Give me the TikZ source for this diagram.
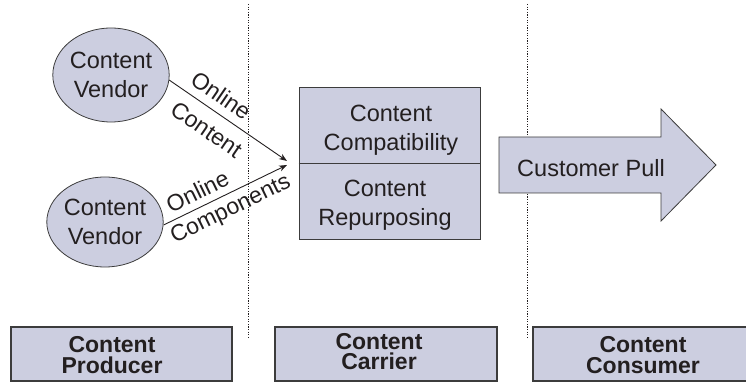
\documentclass[tikz,border=0pt]{standalone}
\usepackage{fontspec}
\setmainfont{Liberation Sans}
\usetikzlibrary{arrows.meta,shapes.geometric}
\definecolor{boxfill}{RGB}{204,206,224}
\definecolor{ink}{RGB}{35,31,32}
\definecolor{edge}{RGB}{60,60,60}

\begin{document}
\begin{tikzpicture}[x=1pt,y=1pt,
  txt/.style={font=\fontsize{23.5}{29}\selectfont, text=ink, align=center, inner sep=0pt},
  vendor/.style={ellipse, draw=edge, line width=0.8pt, fill=boxfill,
    minimum width=114pt, minimum height=94pt, inner sep=0pt, txt},
  flow/.style={draw=ink, line width=0.9pt, -{Stealth[length=8pt,width=6pt]}},
  lbl/.style={font=\fontsize{23}{27}\selectfont, text=ink, inner sep=0pt, sloped},
  divider/.style={draw=ink, line width=0.9pt, dash pattern=on 1.2pt off 1.4pt},
  panel/.style={draw=edge, line width=1.2pt, fill=boxfill, inner sep=0pt},
  head/.style={font=\bfseries\fontsize{23}{20.5}\selectfont, text=ink, align=center, inner sep=0pt}
]
\useasboundingbox (0,0) rectangle (746,382);
\clip (0,0) rectangle (746,382);

% dotted separators between the three stages
\coordinate (d1top) at (248,378);
\coordinate (d1bot) at (248,44);
\coordinate (d2top) at (527,378);
\coordinate (d2bot) at (527,44);
\draw[divider] (d1top) -- (d1bot);
\draw[divider] (d2top) -- (d2bot);

% content vendors
\node[vendor] (v1) at (111,307) {Content\\Vendor};
\node[vendor, minimum height=90pt] (v2) at (105,160) {Content\\Vendor};

% flows into the carrier
\coordinate (t1) at (287,221);
\coordinate (t2) at (287,217);
\draw[flow] (v1.-5) -- node[lbl, pos=0.36, above=8pt] {Online}
                       node[lbl, pos=0.41, below=11pt] {Content} (t1);
\draw[flow] (v2.-3) -- node[lbl, pos=0.33, above=6.5pt] {Online}
                       node[lbl, pos=0.49, below=5pt] {Components} (t2);

% carrier box with two functions
\node[panel, line width=0.9pt, minimum width=181pt, minimum height=152pt] (carrier) at (389.5,219) {};
\draw[edge, line width=0.9pt] (carrier.west) -- (carrier.east);
\node[txt] (compat) at (391,252) {Content\\Compatibility};
\node[txt] (repurp) at (385,176.5) {Content\\Repurposing};

% customer pull arrow
\draw[edge, line width=0.8pt, fill=boxfill]
  (499,189) -- (661,189) -- (661,161) -- (716,217) -- (661,273) -- (661,245) -- (499,245) -- cycle;
\node[txt] (pull) at (591,213.5) {Customer Pull};

% stage headings
\node[panel, minimum width=221pt, minimum height=54pt] (prod) at (121.5,28) {};
\node[panel, minimum width=222pt, minimum height=54pt] (carr) at (386,28) {};
\node[panel, minimum width=227pt, minimum height=54pt] (cons) at (646.5,28) {};
\node[head] (prodlbl) at (112,27) {Content\\Producer};
\node[head] (carrlbl) at (379,30.5) {Content\\Carrier};
\node[head] (conslbl) at (643,27) {Content\\Consumer};
\end{tikzpicture}
\end{document}
